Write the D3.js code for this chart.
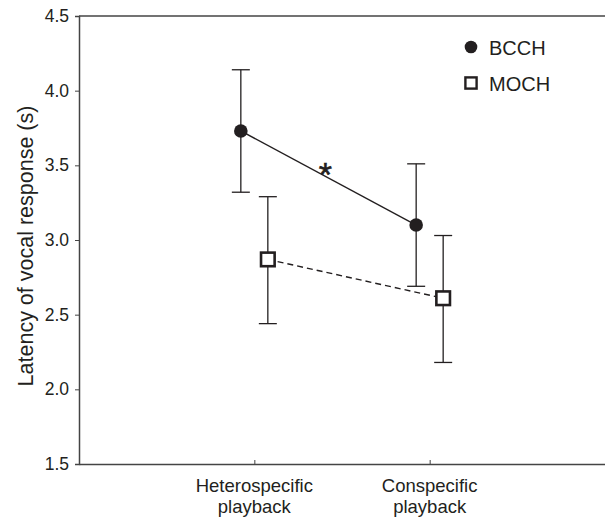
<!DOCTYPE html>
<html>
<head>
<meta charset="utf-8">
<script src="https://cdn.jsdelivr.net/npm/d3@7"></script>
<style>
  body { margin: 0; background: #fff; }
  text { font-family: "Liberation Sans", Arial, sans-serif; fill: #231f20; }
</style>
</head>
<body>
<div id="chart"></div>
<script>
// data
var categories = ["Heterospecific\nplayback", "Conspecific\nplayback"];
var species = ["BCCH", "MOCH"];
var bcchMean = [3.73, 3.10];
var bcchLow = [3.32, 2.69];
var bcchHigh = [4.14, 3.51];
var mochMean = [2.87, 2.61];
var mochLow = [2.44, 2.18];
var mochHigh = [3.29, 3.03];
var yTicks = [1.5, 2.0, 2.5, 3.0, 3.5, 4.0, 4.5];

var width = 605, height = 517;
var margin = {top: 16, right: 0, bottom: 53, left: 79};
var ink = "#231f20";

var svg = d3.select("#chart")
    .append("svg")
    .attr("width", width)
    .attr("height", height);

var x = d3.scaleLinear().domain([-1, 2]).range([margin.left, width - margin.right]);
var y = d3.scaleLinear().domain([1.5, 4.5]).range([height - margin.bottom, margin.top]);
var dodge = 0.077;

// top frame line
svg.append("line")
    .attr("x1", x(-1)).attr("x2", x(2))
    .attr("y1", y(4.5)).attr("y2", y(4.5))
    .attr("stroke", "#444").attr("stroke-width", 1.5);

// y axis
var yAxis = svg.append("g")
    .attr("transform", `translate(${margin.left},0)`)
    .call(d3.axisLeft(y).tickValues(yTicks).tickFormat(d3.format(".1f")).tickSize(4).tickPadding(6));
yAxis.select(".domain").attr("stroke", "#444").attr("stroke-width", 1.5);
yAxis.selectAll(".tick line").attr("stroke", "#444");
yAxis.selectAll("text").attr("font-size", 17.5).attr("fill", ink);

// x axis
var xAxis = svg.append("g")
    .attr("transform", `translate(0,${y(1.5)})`)
    .call(d3.axisBottom(x).tickValues([0, 1]).tickSizeInner(-4).tickSizeOuter(0).tickFormat(""));
xAxis.select(".domain").attr("stroke", "#444").attr("stroke-width", 1.5);
xAxis.selectAll(".tick line").attr("stroke", "#444");

categories.forEach(function(c, i) {
    var t = svg.append("text")
        .attr("x", x(i))
        .attr("y", y(1.5) + 28)
        .attr("text-anchor", "middle")
        .attr("font-size", 18.5);
    c.split("\n").forEach(function(s, j) {
        t.append("tspan").attr("x", x(i)).attr("dy", j ? 21 : 0).text(s);
    });
});

// y label
svg.append("text")
    .attr("transform", `translate(33,${(y(1.5) + y(4.5)) / 2 + 6}) rotate(-90)`)
    .attr("text-anchor", "middle")
    .attr("font-size", 21.5)
    .text("Latency of vocal response (s)");

function series(means, lows, highs, off, dash) {
    var pts = means.map(function(m, i) { return {x: i + off, m: m, lo: lows[i], hi: highs[i]}; });
    svg.append("path")
        .datum(pts)
        .attr("d", d3.line().x(d => x(d.x)).y(d => y(d.m)))
        .attr("fill", "none")
        .attr("stroke", ink)
        .attr("stroke-width", 1.4)
        .attr("stroke-dasharray", dash);
    var g = svg.append("g").selectAll("g").data(pts).enter().append("g");
    g.append("line")
        .attr("x1", d => x(d.x)).attr("x2", d => x(d.x))
        .attr("y1", d => y(d.lo)).attr("y2", d => y(d.hi))
        .attr("stroke", ink).attr("stroke-width", 1.3);
    ["lo", "hi"].forEach(function(k) {
        g.append("line")
            .attr("x1", d => x(d.x) - 9).attr("x2", d => x(d.x) + 9)
            .attr("y1", d => y(d[k])).attr("y2", d => y(d[k]))
            .attr("stroke", ink).attr("stroke-width", 1.3);
    });
    return g;
}

var bc = series(bcchMean, bcchLow, bcchHigh, -dodge, null);
bc.append("circle")
    .attr("cx", d => x(d.x)).attr("cy", d => y(d.m))
    .attr("r", 6.8).attr("fill", ink);

var mo = series(mochMean, mochLow, mochHigh, dodge, "6,4");
mo.append("rect")
    .attr("x", d => x(d.x) - 6.8).attr("y", d => y(d.m) - 6.8)
    .attr("width", 13.6).attr("height", 13.6)
    .attr("fill", "#fff").attr("stroke", ink).attr("stroke-width", 2.6);

// significance mark
svg.append("text")
    .attr("x", x(0.405))
    .attr("y", y(3.47) + 16)
    .attr("text-anchor", "middle")
    .attr("font-size", 34)
    .attr("stroke", ink)
    .attr("stroke-width", 0.6)
    .text("*");

// legend
var leg = svg.append("g").attr("transform", "translate(471,47)");
leg.append("circle").attr("cx", 0).attr("cy", 0).attr("r", 6.3).attr("fill", ink);
leg.append("rect").attr("x", -5.6).attr("y", 30.4).attr("width", 11.2).attr("height", 11.2)
    .attr("fill", "#fff").attr("stroke", ink).attr("stroke-width", 2.4);
species.forEach(function(s, i) {
    leg.append("text").attr("x", 18).attr("y", 8 + i * 36).attr("font-size", 20).text(s);
});
</script>
</body>
</html>
